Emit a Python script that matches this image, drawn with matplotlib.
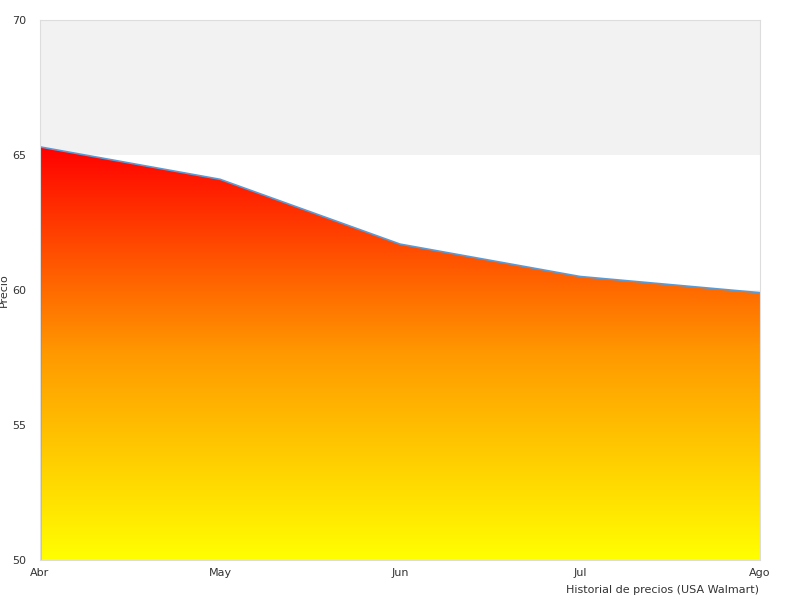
import numpy as np
import matplotlib.pyplot as plt
from matplotlib.colors import LinearSegmentedColormap

months = ['Abr', 'May', 'Jun', 'Jul', 'Ago']
prices = [65.3, 64.1, 61.7, 60.5, 59.9]
y_ticks = [50, 55, 60, 65, 70]

fig = plt.figure(figsize=(8, 6), dpi=100)
ax = fig.add_axes([0.05, 0.0667, 0.9, 0.9])

x = np.arange(len(months))
ax.set_xlim(0, len(months) - 1)
ax.set_ylim(50, 70)

# alternating bands
for i, lo in enumerate(y_ticks[:-1]):
    if i % 2 == 1:
        ax.axhspan(lo, lo + 5, color='#f2f2f2', zorder=0, lw=0)

# gradient fill under line
poly = ax.fill_between(x, prices, 50, color='none', zorder=1)
cmap = LinearSegmentedColormap.from_list('ry', ['#ffff00', '#ff9900', '#ff0000'])
grad = np.linspace(0, 1, 256).reshape(-1, 1)
top = max(prices)
im = ax.imshow(grad, cmap=cmap, origin='lower', aspect='auto',
               extent=[0, len(months) - 1, 50, top], zorder=1)
im.set_clip_path(poly.get_paths()[0], transform=ax.transData)
ax.plot(x, prices, color='#5b9bd5', lw=1.2, zorder=2)
ax.plot([0, 0], [50, prices[0]], color='#555555', lw=1, zorder=2)

ax.set_xticks(x)
ax.set_xticklabels(months)
ax.set_yticks(y_ticks)
ax.tick_params(labelsize=8, colors='#333333', length=0, pad=6)
ax.tick_params(axis='y', pad=10)
for s in ax.spines.values():
    s.set_color('#dddddd')
ax.set_ylabel('Precio', fontsize=8, color='#333333', labelpad=2)
fig.text(0.949, 0.008, 'Historial de precios (USA Walmart)', fontsize=8,
         color='#333333', ha='right', va='bottom')

fig.savefig('out.png')
